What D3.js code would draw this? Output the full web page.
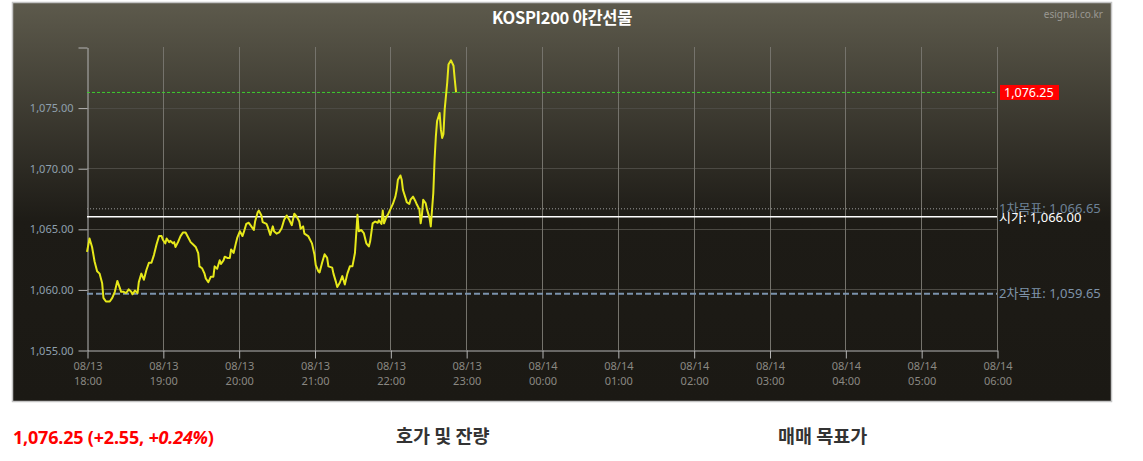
<!DOCTYPE html>
<html><head><meta charset="utf-8">
<script src="https://cdn.jsdelivr.net/npm/d3@7"></script>
<style>
body{margin:0;background:#fff;}
svg{display:block;}
</style></head>
<body>
<svg id="c" width="1143" height="461"></svg>
<script>
// ---- data ----
const title = "KOSPI200 야간선물";
const sourceLabel = "esignal.co.kr";
const startTime = "2020-08-13T18:00";
const endTime = "2020-08-14T06:00";
const yTicks = [1055, 1060, 1065, 1070, 1075, 1080];
const times = ["18:00","18:02","18:04","18:06","18:08","18:10","18:12","18:13","18:15","18:18","18:20","18:22","18:24","18:26","18:27","18:29","18:31","18:33","18:35","18:36","18:38","18:40","18:41","18:43","18:45","18:47","18:49","18:51","18:53","18:55","18:57","18:59",
"19:00","19:02","19:03","19:05","19:06","19:08","19:09","19:10","19:12","19:14","19:16","19:18","19:20","19:22","19:24","19:26","19:28","19:29","19:31","19:33","19:34","19:36","19:38","19:40","19:41","19:43","19:45","19:46","19:48","19:49","19:51","19:53","19:54","19:56","19:58","19:59",
"20:01","20:03","20:04","20:06","20:08","20:10","20:12","20:13","20:15","20:16","20:18","20:19","20:22","20:23","20:25","20:27","20:28","20:30","20:32","20:34","20:36","20:38","20:40","20:42","20:44","20:46","20:48","20:49","20:51","20:52","20:55","20:56","20:58",
"21:00","21:01","21:03","21:04","21:06","21:08","21:10","21:11","21:14","21:15","21:17","21:18","21:20","21:22","21:24","21:26","21:28","21:30","21:32","21:34","21:35","21:37","21:39","21:41","21:43","21:44","21:46","21:48","21:50","21:51","21:53","21:54","21:55","21:57","21:58",
"22:00","22:02","22:04","22:05","22:06","22:08","22:09","22:10","22:12","22:13","22:15","22:16","22:18","22:20","22:21","22:23","22:24","22:25","22:26","22:28","22:29","22:31","22:32","22:34","22:35","22:36","22:37","22:39","22:40","22:41","22:42","22:43","22:45","22:46","22:48","22:50","22:51","22:52"];
const prices = [1063.1,1064.2,1063.5,1062.3,1061.5,1061.3,1060.5,1059.3,1059.0,1059.0,1059.3,1059.8,1060.7,1060.1,1059.8,1059.8,1059.7,1060.0,1059.8,1059.6,1059.9,1059.7,1060.6,1061.3,1060.8,1061.6,1062.2,1062.2,1062.85,1063.7,1064.4,1064.4,
1064.1,1063.8,1064.2,1063.9,1064.0,1063.8,1063.9,1063.5,1063.9,1064.4,1064.7,1064.7,1064.3,1063.9,1063.7,1063.5,1063.0,1061.9,1061.75,1061.3,1060.9,1060.6,1061.05,1061.05,1061.9,1061.7,1062.4,1062.1,1062.4,1062.7,1062.6,1062.6,1063.3,1063.0,1063.9,1064.3,
1064.8,1064.4,1064.7,1065.4,1065.5,1065.2,1064.9,1065.6,1066.35,1066.5,1066.1,1065.55,1065.4,1065.15,1064.5,1065.2,1064.8,1064.6,1064.7,1065.05,1065.75,1066.1,1065.75,1065.3,1066.25,1066.0,1065.6,1065.0,1065.2,1064.6,1064.4,1064.2,1063.8,
1062.85,1062.0,1061.5,1061.4,1062.2,1062.9,1062.6,1061.9,1061.8,1061.3,1060.6,1060.2,1060.55,1061.1,1060.4,1061.3,1061.9,1061.9,1063.0,1066.15,1064.8,1064.9,1064.65,1063.8,1063.55,1063.95,1065.45,1065.6,1065.5,1065.7,1065.4,1066.5,1065.45,1066.0,1066.15,
1066.6,1067.05,1067.65,1068.2,1069.05,1069.4,1069.05,1068.2,1067.55,1067.2,1067.05,1067.4,1067.65,1067.25,1067.0,1066.6,1065.45,1066.15,1067.4,1067.1,1066.6,1065.9,1065.2,1067.95,1070.7,1072.6,1073.9,1074.55,1073.2,1072.5,1072.8,1074.85,1077.05,1078.55,1078.9,1078.45,1077.3,1076.25];
const refNames = ["현재가", "1차목표", "시가", "2차목표"];
const refValues = [1076.25, 1066.65, 1066.00, 1059.65];
const summaryText = ["1,076.25 (+2.55, ", "+0.24%", ")"];
const sectionTitles = ["호가 및 잔량", "매매 목표가"];

// ---- drawing ----
const svg = d3.select("#c");
const fmt = d3.format(",.2f");
const parseDT = d3.timeParse("%Y-%m-%dT%H:%M");
const t0 = parseDT(startTime), t1 = parseDT(endTime);
const dates = times.map(t => parseDT("2020-08-13T" + t));
const data = dates.map((d, i) => ({t: d, v: prices[i]}));

const L = 87, R = 997, T = 47, B = 350;
const x = d3.scaleTime().domain([t0, t1]).range([L, R]);
const y = d3.scaleLinear().domain([1055, 1080]).range([B, T]);

const defs = svg.append("defs");
const g = defs.append("linearGradient").attr("id", "bg").attr("x1", 0).attr("y1", 0).attr("x2", 0).attr("y2", 1);
g.append("stop").attr("offset", "0%").attr("stop-color", "#5d5a4c");
g.append("stop").attr("offset", "55%").attr("stop-color", "#1d1b16");
g.append("stop").attr("offset", "100%").attr("stop-color", "#1b1914");

svg.append("rect").attr("x", 12.5).attr("y", 2.5).attr("width", 1099).attr("height", 399)
  .attr("fill", "url(#bg)").attr("stroke", "#c4c4c4").attr("stroke-width", 1.5);

const font = "'Noto Sans', 'Noto Sans CJK KR', sans-serif";
const kfont = "'Noto Sans CJK KR', 'Noto Sans', sans-serif";

svg.append("text").attr("x", 562).attr("y", 24).attr("text-anchor", "middle")
  .attr("fill", "#fff").attr("font-family", kfont)
  .attr("font-weight", "bold").attr("font-size", 16.5).attr("letter-spacing", -0.3).text(title);
svg.append("text").attr("x", 1103).attr("y", 18).attr("text-anchor", "end")
  .attr("fill", "#9a9892").attr("font-family", font).attr("font-size", 10).text(sourceLabel);

// horizontal grid
svg.append("g").selectAll("line").data(yTicks.filter(v => v > 1055 && v < 1080)).join("line")
  .attr("x1", L).attr("x2", R).attr("y1", d => Math.round(y(d)) + 0.5).attr("y2", d => Math.round(y(d)) + 0.5)
  .attr("stroke", "#4c4a44").attr("stroke-width", 1);

// vertical grid
const hours = d3.timeHour.every(1).range(t0, d3.timeHour.offset(t1, 1));
svg.append("g").selectAll("line").data(hours.slice(1)).join("line")
  .attr("x1", d => Math.round(x(d)) + 0.5).attr("x2", d => Math.round(x(d)) + 0.5)
  .attr("y1", T).attr("y2", B).attr("stroke", "#75736c").attr("stroke-width", 1);

// y axis
const yAxis = d3.axisLeft(y).tickValues(yTicks).tickSize(9).tickPadding(5).tickSizeOuter(0)
  .tickFormat(v => v === 1080 ? "" : fmt(v));
const ya = svg.append("g").attr("transform", `translate(${L + 0.5},0.5)`).call(yAxis);
ya.select(".domain").attr("stroke", "#b5b5b5");
ya.selectAll(".tick line").attr("stroke", "#b5b5b5");
ya.selectAll(".tick text").attr("fill", "#8fa0ae").attr("font-family", font).attr("font-size", 11);

// x axis
const xAxis = d3.axisBottom(x).ticks(d3.timeHour.every(1)).tickSize(8).tickSizeOuter(0).tickFormat("");
const xa = svg.append("g").attr("transform", `translate(0.5,${B + 0.5})`).call(xAxis);
xa.select(".domain").attr("stroke", "#b5b5b5");
xa.selectAll(".tick line").attr("stroke", "#b5b5b5");
const md = d3.timeFormat("%m/%d"), hm = d3.timeFormat("%H:%M");
xa.selectAll(".tick").each(function(d) {
  const t = d3.select(this).append("text").attr("fill", "#8a8882").attr("font-family", font)
    .attr("font-size", 11).attr("text-anchor", "middle");
  t.append("tspan").attr("x", 0).attr("y", 19).text(md(d));
  t.append("tspan").attr("x", 0).attr("y", 34).text(hm(d));
});

// reference lines
const refStyles = [
  {stroke: "#3ccc2e", w: 1, dash: "3,2"},
  {stroke: "#9c9c9c", w: 1, dash: "1,2"},
  {stroke: "#ffffff", w: 1.6, dash: null},
  {stroke: "#7b93ad", w: 2, dash: "6,3"}
];
refValues.forEach((v, i) => {
  const s = refStyles[i];
  svg.append("line").attr("x1", L).attr("x2", R).attr("y1", y(v)).attr("y2", y(v))
    .attr("stroke", s.stroke).attr("stroke-width", s.w).attr("stroke-dasharray", s.dash);
});

// price line
svg.append("path").datum(data)
  .attr("d", d3.line().x(d => x(d.t)).y(d => y(d.v)))
  .attr("fill", "none").attr("stroke", "#e6e81a").attr("stroke-width", 2).attr("stroke-linejoin", "round");

// right labels
const lab = svg.append("g").attr("font-family", font).attr("font-size", 13);
lab.append("rect").attr("x", 1000).attr("y", y(refValues[0]) - 7.5).attr("width", 59).attr("height", 15).attr("fill", "#ff0000");
lab.append("text").attr("x", 1004).attr("y", y(refValues[0]) + 4.5).attr("fill", "#fff").attr("font-size", 12.5).text(fmt(refValues[0]));
lab.append("text").attr("x", 999).attr("y", y(refValues[1]) + 4).attr("fill", "#6d8297").text(`${refNames[1]}: ${fmt(refValues[1])}`);
lab.append("text").attr("x", 999).attr("y", y(refValues[2]) + 5).attr("fill", "#fff").text(`${refNames[2]}: ${fmt(refValues[2])}`);
lab.append("text").attr("x", 999).attr("y", y(refValues[3]) + 4).attr("fill", "#7d92a8").text(`${refNames[3]}: ${fmt(refValues[3])}`);

// bottom texts
const st = svg.append("text").attr("x", 13).attr("y", 444).attr("fill", "#ff0000")
  .attr("font-family", font).attr("font-weight", "bold").attr("font-size", 18).attr("letter-spacing", -0.2);
st.append("tspan").text(summaryText[0]);
st.append("tspan").attr("font-style", "italic").text(summaryText[1]);
st.append("tspan").text(summaryText[2]);

svg.append("text").attr("x", 396).attr("y", 443).attr("fill", "#333")
  .attr("font-family", kfont).attr("font-weight", "bold").attr("font-size", 18.5).text(sectionTitles[0]);
svg.append("text").attr("x", 778).attr("y", 443).attr("fill", "#333")
  .attr("font-family", kfont).attr("font-weight", "bold").attr("font-size", 18.5).text(sectionTitles[1]);
</script>
</body></html>
